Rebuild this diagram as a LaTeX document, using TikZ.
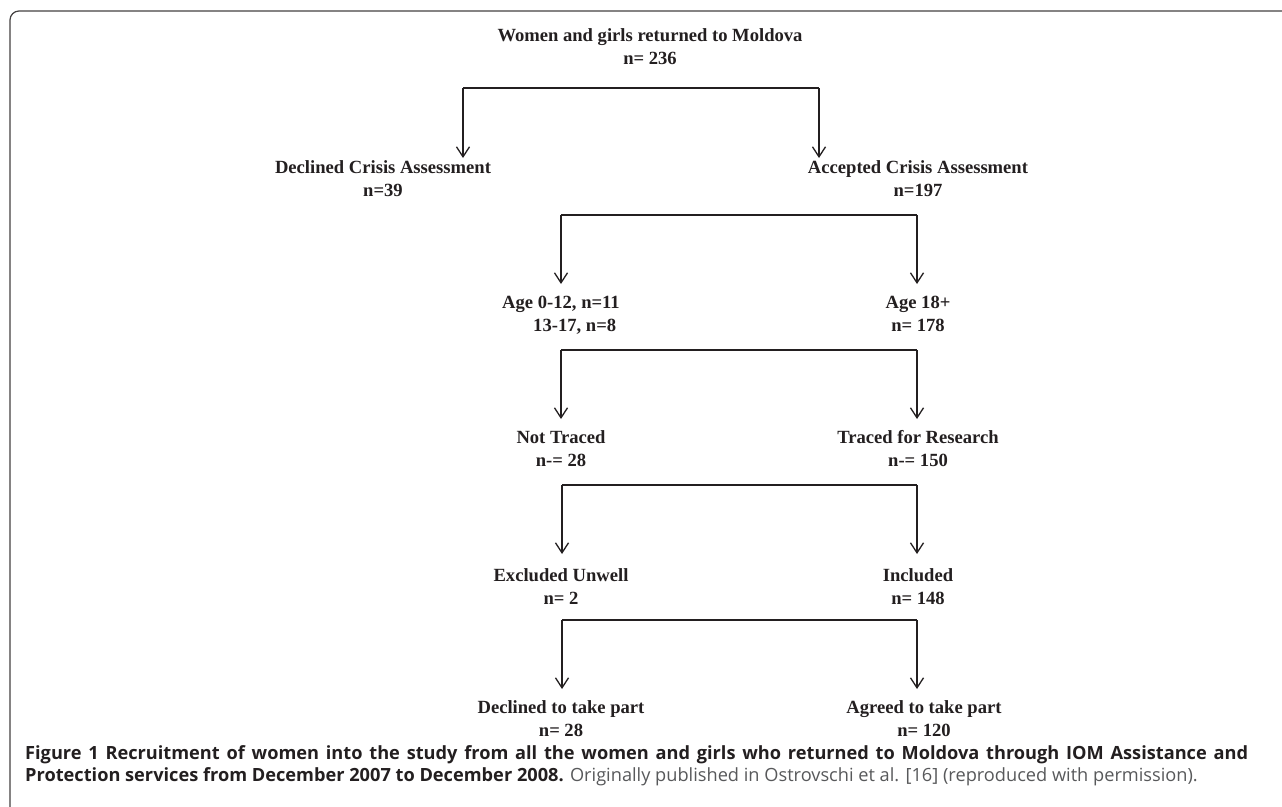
\documentclass[tikz,border=0pt]{standalone}
\usepackage{fontspec}
\setmainfont{Liberation Serif}
\newfontfamily\capfont{Open Sans}
\usetikzlibrary{arrows.meta}
\definecolor{ink}{HTML}{231F20}
\definecolor{capgray}{HTML}{58595B}
\begin{document}
\begin{tikzpicture}[x=1pt,y=-1pt,
  lbl/.style={font=\fontsize{18.6}{23}\selectfont\bfseries, align=center, inner sep=0pt, anchor=north, text=ink},
  arr/.style={draw=ink, line width=1.4pt, -{Straight Barb[length=10pt,width=13pt,line width=1.3pt]}},
  bar/.style={draw=ink, line width=1.2pt},
  frame/.style={draw=ink!85, line width=1.2pt, rounded corners=9pt},
  capl/.style={font=\capfont\fontsize{18.2}{22.5}\selectfont, inner sep=0pt, anchor=base west, text=ink}]
\useasboundingbox[fill=white] (0,0) rectangle (1282,806);
% frame
\draw[frame] (10,812) -- (10,11) -- (1290,11);
% nodes
\node[lbl] (top) at (650,28.6) {Women and girls returned to Moldova\\n= 236};
\node[lbl] (decl) at (383,160.6) {Declined Crisis Assessment\\n=39};
\node[lbl] (acc) at (918,160.6) {Accepted Crisis Assessment\\n=197};
\node[lbl, align=left] (young) at (561,295.6) {Age 0-12, n=11\\\hspace*{31pt}13-17, n=8};
\node[lbl] (adult) at (918,295.6) {Age 18+\\n= 178};
\node[lbl] (nottr) at (561,430.6) {Not Traced\\n-= 28};
\node[lbl] (traced) at (918,430.6) {Traced for Research\\n-= 150};
\node[lbl] (excl) at (561,568.6) {Excluded Unwell\\n= 2};
\node[lbl] (incl) at (918,568.6) {Included\\n= 148};
\node[lbl] (declp) at (561,700.6) {Declined to take part\\n= 28};
\node[lbl] (agreed) at (924,700.6) {Agreed to take part\\n= 120};
% brackets
\coordinate (s1l) at (463,88);  \coordinate (s1r) at (819,88);
\coordinate (s2l) at (561,215); \coordinate (s2r) at (917,215);
\coordinate (s3l) at (561,350); \coordinate (s3r) at (917,350);
\coordinate (s4l) at (562,485); \coordinate (s4r) at (917,485);
\coordinate (s5l) at (562,620); \coordinate (s5r) at (917,620);
\draw[bar] (s1l) -- (s1r);
\draw[bar] (s2l) -- (s2r);
\draw[bar] (s3l) -- (s3r);
\draw[bar] (s4l) -- (s4r);
\draw[bar] (s5l) -- (s5r);
\draw[arr, shorten >=2.6pt] (s1l) -- (s1l |- decl.north);
\draw[arr, shorten >=2.6pt] (s1r) -- (s1r |- acc.north);
\draw[arr, shorten >=11.6pt] (s2l) -- (s2l |- young.north);
\draw[arr, shorten >=11.6pt] (s2r) -- (s2r |- adult.north);
\draw[arr, shorten >=11.6pt] (s3l) -- (s3l |- nottr.north);
\draw[arr, shorten >=11.6pt] (s3r) -- (s3r |- traced.north);
\draw[arr, shorten >=14.6pt] (s4l) -- (s4l |- excl.north);
\draw[arr, shorten >=14.6pt] (s4r) -- (s4r |- incl.north);
\draw[arr, shorten >=11.6pt] (s5l) -- (s5l |- declp.north);
\draw[arr, shorten >=11.6pt] (s5r) -- (s5r |- agreed.north);
% caption
\node[capl] (cap1) at (25,759) {\makebox[1223pt][s]{\bfseries Figure 1 Recruitment of women into the study from all the women and girls who returned to Moldova through IOM Assistance and}};
\node[capl] (cap2) at (25,781) {{\bfseries Protection services from December 2007 to December 2008.} {\color{capgray}Originally published in Ostrovschi et al. [16] (reproduced with permission).}};
\end{tikzpicture}
\end{document}
